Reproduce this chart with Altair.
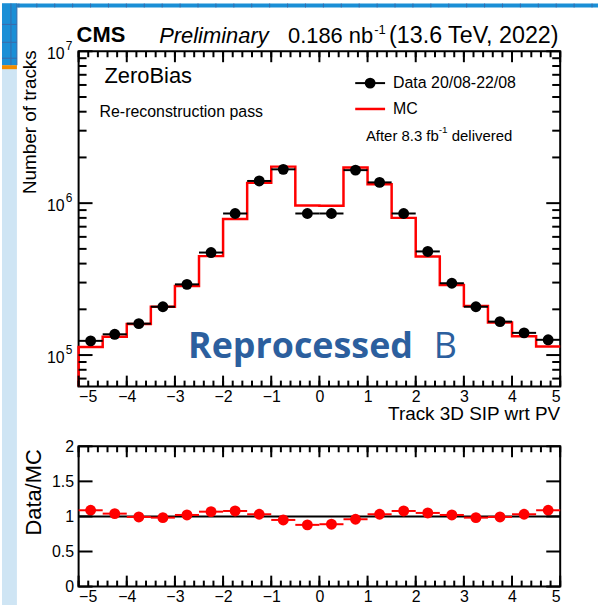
import altair as alt
import pandas as pd

# ---------------- data ----------------
bin_lo = [-5.0, -4.5, -4.0, -3.5, -3.0, -2.5, -2.0, -1.5, -1.0, -0.5,
          0.0, 0.5, 1.0, 1.5, 2.0, 2.5, 3.0, 3.5, 4.0, 4.5]
bin_hi = [-4.5, -4.0, -3.5, -3.0, -2.5, -2.0, -1.5, -1.0, -0.5, 0.0,
          0.5, 1.0, 1.5, 2.0, 2.5, 3.0, 3.5, 4.0, 4.5, 5.0]
centers = [-4.75, -4.25, -3.75, -3.25, -2.75, -2.25, -1.75, -1.25, -0.75, -0.25,
           0.25, 0.75, 1.25, 1.75, 2.25, 2.75, 3.25, 3.75, 4.25, 4.75]
data_vals = [1.24e5, 1.37e5, 1.61e5, 2.08e5, 2.92e5, 4.73e5, 8.55e5, 1.40e6, 1.67e6, 8.55e5,
             8.55e5, 1.65e6, 1.37e6, 8.55e5, 4.81e5, 2.97e5, 2.08e5, 1.66e5, 1.40e5, 1.26e5]
mc_vals = [1.13e5, 1.32e5, 1.60e5, 2.08e5, 2.85e5, 4.48e5, 7.87e5, 1.36e6, 1.74e6, 9.66e5,
           9.60e5, 1.72e6, 1.33e6, 8.00e5, 4.45e5, 2.89e5, 2.10e5, 1.64e5, 1.33e5, 1.14e5]
ratio_vals = [1.088, 1.04, 0.993, 0.983, 1.021, 1.068, 1.078, 1.031, 0.95, 0.88,
              0.889, 0.96, 1.031, 1.078, 1.05, 1.021, 0.983, 0.993, 1.031, 1.088]
ratio_line = [1.0]

x_major = [-5, -4, -3, -2, -1, 0, 1, 2, 3, 4, 5]
x_minor = [round(-5 + 0.2 * i, 1) for i in range(51)]
y_major = [1e5, 1e6, 1e7]
y_minor = [7e4, 8e4, 9e4, 2e5, 3e5, 4e5, 5e5, 6e5, 7e5, 8e5, 9e5,
           2e6, 3e6, 4e6, 5e6, 6e6, 7e6, 8e6, 9e6]
y_exp = ["5", "6", "7"]
r_major = [0, 0.5, 1, 1.5, 2]

YMIN, YMAX = 6.2e4, 1e7
W, H1, H2 = 484, 337, 141
FONT = "Liberation Sans"

xs = alt.Scale(domain=[-5, 5], nice=False, zero=False)
ys = alt.Scale(type="log", domain=[YMIN, YMAX], nice=False)
rs = alt.Scale(domain=[0, 2], nice=False, zero=False)

xax1 = alt.Axis(values=x_major, format="d", ticks=False, domain=False, grid=False,
                title=None, labelFont=FONT, labelFontSize=16, labelColor="black",
                labelPadding=2)
xax2 = alt.Axis(values=x_major, format="d", ticks=False, domain=False, grid=False,
                title=None, labelFont=FONT, labelFontSize=16, labelColor="black",
                labelPadding=2)
rax = alt.Axis(values=r_major, ticks=False, domain=False, grid=False, title=None,
               labelFont=FONT, labelFontSize=16, labelColor="black", labelPadding=5,
               labelOverlap=False, labelExpr="format(datum.value, '~g')")

hist = pd.DataFrame({"lo": bin_lo, "hi": bin_hi, "c": centers,
                     "data": data_vals, "mc": mc_vals, "ratio": ratio_vals})
# step outline of MC histogram (starts from the frame bottom at the left edge)
step = pd.DataFrame({"x": [bin_lo[0]] + bin_lo + [bin_hi[-1]],
                     "y": [YMIN] + mc_vals + [mc_vals[-1]]})
one = pd.DataFrame({"a": [0]})


def ticks_x(vals, h, length, scale, ax):
    d = pd.DataFrame({"v": vals})
    b = alt.Chart(d).mark_rule(color="black", strokeWidth=2).encode(
        x=alt.X("v:Q", scale=scale, axis=ax), y=alt.value(h), y2=alt.value(h - length))
    t = alt.Chart(d).mark_rule(color="black", strokeWidth=2).encode(
        x=alt.X("v:Q", scale=scale, axis=ax), y=alt.value(0), y2=alt.value(length))
    return [b, t]


def ticks_y(vals, length, scale, ax):
    d = pd.DataFrame({"v": vals})
    l = alt.Chart(d).mark_rule(color="black", strokeWidth=2).encode(
        y=alt.Y("v:Q", scale=scale, axis=ax), x=alt.value(0), x2=alt.value(length))
    r = alt.Chart(d).mark_rule(color="black", strokeWidth=2).encode(
        y=alt.Y("v:Q", scale=scale, axis=ax), x=alt.value(W), x2=alt.value(W - length))
    return [l, r]


def txt(s, x, y, size, align="left", baseline="middle", weight="normal",
        style="normal", color="black", angle=0, font=FONT):
    kw = dict(text=s, fontSize=size, align=align, baseline=baseline,
              fontWeight=weight, fontStyle=style, color=color, font=font)
    if angle:
        kw["angle"] = angle
    return alt.Chart(one).mark_text(**kw).encode(x=alt.value(x), y=alt.value(y))


def rect(x, x2, y, y2, color):
    return alt.Chart(one).mark_rect(color=color).encode(
        x=alt.value(x), x2=alt.value(x2), y=alt.value(y), y2=alt.value(y2))


# ---------------- decoration (screenshot frame) ----------------
deco = [
    rect(-77, -62, -48, 557, "#cfe5f4"),
    rect(-77, -62, -48, 14, "#1b8fd6"),
    rect(-77, -62, 14, 18, "#f28c00"),
    rect(-77, 522, -48, -44, "#1b8fd6"),
]
grid_rules = []
for gx in [-68, -62]:
    grid_rules.append(alt.Chart(one).mark_rule(color="#3c6aa8", strokeWidth=1).encode(
        x=alt.value(gx), y=alt.value(-48), y2=alt.value(14)))
for gy in [-27, -9, 7]:
    grid_rules.append(alt.Chart(one).mark_rule(color="#3c6aa8", strokeWidth=1).encode(
        x=alt.value(-77), x2=alt.value(-62), y=alt.value(gy)))
for gx in range(-60, 522, 18):
    grid_rules.append(alt.Chart(one).mark_rule(color="#3c6aa8", strokeWidth=1).encode(
        x=alt.value(gx), y=alt.value(-48), y2=alt.value(-44)))

# ---------------- upper panel ----------------
base = alt.Chart(hist)
mc_line = alt.Chart(step).mark_line(color="#ff0000", strokeWidth=2.5,
                                    interpolate="step-after").encode(
    x=alt.X("x:Q", scale=xs, axis=xax1),
    y=alt.Y("y:Q", scale=ys, axis=None))
err = base.mark_rule(color="black", strokeWidth=2).encode(
    x=alt.X("lo:Q", scale=xs, axis=xax1), x2="hi:Q",
    y=alt.Y("data:Q", scale=ys, axis=None))
pts = base.mark_circle(color="black", opacity=1, size=120).encode(
    x=alt.X("c:Q", scale=xs, axis=xax1), y=alt.Y("data:Q", scale=ys, axis=None))

ylab_df = pd.DataFrame({"v": y_major, "e": y_exp})
ylab = alt.Chart(ylab_df).mark_text(text="10", fontSize=16, font=FONT, align="right",
                                    baseline="middle", dy=3).encode(
    y=alt.Y("v:Q", scale=ys, axis=None), x=alt.value(-14))
yexp = alt.Chart(ylab_df).mark_text(fontSize=12, font=FONT, align="left",
                                    baseline="middle", dy=-5).encode(
    y=alt.Y("v:Q", scale=ys, axis=None), x=alt.value(-13), text="e:N")

legend = [
    alt.Chart(one).mark_rule(color="black", strokeWidth=2).encode(
        x=alt.value(278), x2=alt.value(308), y=alt.value(32)),
    alt.Chart(one).mark_circle(color="black", opacity=1, size=120).encode(
        x=alt.value(293), y=alt.value(32)),
    txt("Data 20/08-22/08", 316, 32, 16),
    alt.Chart(one).mark_rule(color="#ff0000", strokeWidth=2.5).encode(
        x=alt.value(278), x2=alt.value(308), y=alt.value(58)),
    txt("MC", 316, 58, 16),
    txt("After 8.3 fb", 362, 85, 15, align="right"),
    txt("-1", 362, 79, 10),
    txt("delivered", 375, 85, 15),
]

texts = [
    txt("CMS", -2, -9, 22, baseline="alphabetic", weight="bold"),
    txt("Preliminary", 81, -8, 22, baseline="alphabetic", style="italic"),
    txt("0.186 nb", 296, -8, 22, align="right", baseline="alphabetic"),
    txt("-1", 297, -17, 13, baseline="alphabetic"),
    txt("(13.6 TeV, 2022)", 312, -8, 23.4, baseline="alphabetic"),
    txt("ZeroBias", 26, 25, 22),
    txt("Re-reconstruction pass", 21, 61, 16),
    txt("Reprocessed", 110, 308, 36, baseline="alphabetic", weight="bold",
        color="#2c5f9e", font="Open Sans"),
    txt("B", 357, 308, 36, baseline="alphabetic", color="#2c5f9e", font="Open Sans"),
    txt("Track 3D SIP wrt PV", 484, 371, 19, align="right", baseline="alphabetic"),
    txt("Number of tracks", -49, -1, 19, align="right", angle=270),
]

upper_layers = (deco + grid_rules + [mc_line, err, pts, ylab, yexp]
                + ticks_x(x_major, H1, 11, xs, xax1) + ticks_x(x_minor, H1, 6, xs, xax1)
                + ticks_y(y_major, 14, ys, None) + ticks_y(y_minor, 8, ys, None)
                + legend + texts)
upper = alt.layer(*upper_layers).properties(width=W, height=H1)

# ---------------- lower panel ----------------
rbase = alt.Chart(hist)
one_line = alt.Chart(pd.DataFrame({"r": ratio_line})).mark_rule(
    color="black", strokeWidth=2).encode(
    x=alt.value(0), x2=alt.value(W), y=alt.Y("r:Q", scale=rs, axis=rax))
rerr = rbase.mark_rule(color="#ff0000", strokeWidth=2).encode(
    x=alt.X("lo:Q", scale=xs, axis=xax2), x2="hi:Q",
    y=alt.Y("ratio:Q", scale=rs, axis=rax))
rpts = rbase.mark_circle(color="#ff0000", opacity=1, size=120).encode(
    x=alt.X("c:Q", scale=xs, axis=xax2), y=alt.Y("ratio:Q", scale=rs, axis=rax))

lower_layers = ([one_line, rerr, rpts]
                + ticks_x(x_major, H2, 11, xs, xax2) + ticks_x(x_minor, H2, 6, xs, xax2)
                + ticks_y(r_major, 14, rs, rax)
                + [txt("Data/MC", -45, 3, 22, align="right", angle=270)])
lower = alt.layer(*lower_layers).properties(width=W, height=H2)

chart = alt.vconcat(upper, lower, spacing=60, bounds="flush").properties(
    padding=0, background="white"
).configure_view(stroke="black", strokeWidth=2)

chart.save("out.html", embed_options={"renderer": "svg", "actions": False})
